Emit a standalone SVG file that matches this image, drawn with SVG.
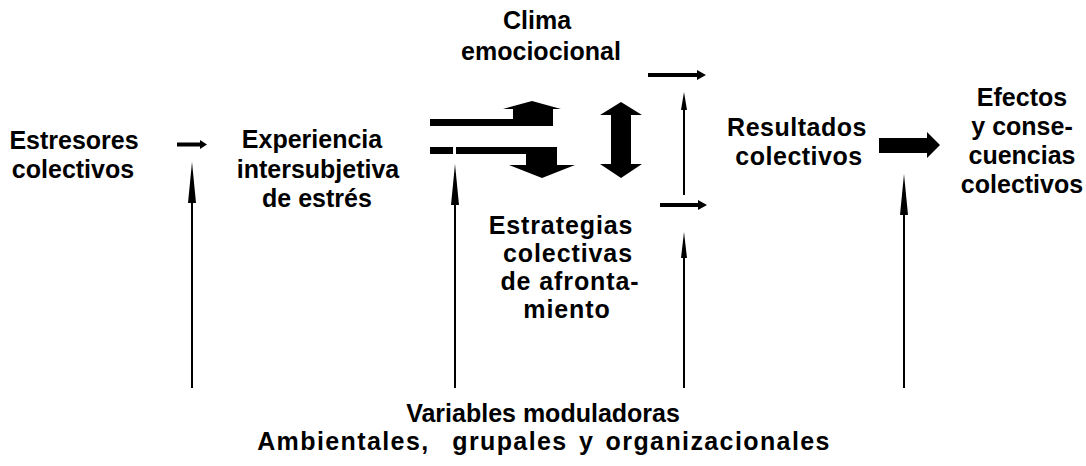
<svg xmlns="http://www.w3.org/2000/svg" width="1086" height="466" viewBox="0 0 1086 466">
<style>
text{font-family:"Liberation Sans",Arial,sans-serif;font-weight:bold;font-size:25px;fill:#000;text-anchor:middle}
.ln{stroke:#000;stroke-width:2;fill:none}
.fl{fill:#000;stroke:none}
.w1{letter-spacing:0.9px}
.w05{letter-spacing:0.5px}
.wide{letter-spacing:1.4px;word-spacing:3px}
</style>
<rect width="1086" height="466" fill="#fff"/>
<g id="estresores">
<text x="74" y="149">Estresores</text>
<text x="73" y="178">colectivos</text>
</g>
<g id="experiencia">
<text x="312" y="148">Experiencia</text>
<text x="318" y="178">intersubjetiva</text>
<text x="317" y="207">de estrés</text>
</g>
<g id="clima">
<text x="537" y="29">Clima</text>
<text x="541" y="60">emociocional</text>
</g>
<g id="estrategias">
<text class="w1" x="561" y="234">Estrategias</text>
<text class="w1" x="568" y="262">colectivas</text>
<text class="w1" x="570" y="290">de afronta-</text>
<text class="w1" x="567" y="318">miento</text>
</g>
<g id="resultados">
<text class="w05" x="797" y="136">Resultados</text>
<text class="w05" x="799" y="165">colectivos</text>
</g>
<g id="efectos">
<text x="1022" y="106">Efectos</text>
<text x="1022" y="135">y conse-</text>
<text x="1022" y="164">cuencias</text>
<text x="1022" y="193">colectivos</text>
</g>
<g id="variables">
<text x="543" y="422">Variables moduladoras</text>
<text class="wide" x="544" y="450" xml:space="preserve">Ambientales,  grupales y organizacionales</text>
</g>
<g id="connectors">
<polygon class="fl" points="177,142.5 200,142.5 200,140 207,144.5 200,149 200,146.5 177,146.5"/>
<polygon class="fl" points="430,119 513,119 513,109 503,109 532,101 561,109 553,109 553,126 430,126"/>
<rect class="fl" x="430" y="147" width="23" height="7"/>
<polygon class="fl" points="456,147 557,147 557,165 575,165 542,178 509,165 526,165 526,154 456,154"/>
<polygon class="fl" points="621,102 642,115 631,115 631,164 642,164 621,178 600,164 611,164 611,115 600,115"/>
<polygon class="fl" points="648,73 697,73 697,70 706,75 697,80 697,77 648,77"/>
<polygon class="fl" points="660,203 698,203 698,200 707,205 698,210 698,207 660,207"/>
<polygon class="fl" points="879,138 927,138 927,132 940,145 927,158 927,153 879,153"/>
<line class="ln" x1="192" y1="388" x2="192" y2="200"/>
<polygon class="fl" points="192,162 196,203 188,203"/>
<line class="ln" x1="455" y1="388" x2="455" y2="200"/>
<polygon class="fl" points="455,164 459,205 451,205"/>
<line class="ln" x1="684" y1="195" x2="684" y2="108"/>
<polygon class="fl" points="684,92 687,110 681,110"/>
<line class="ln" x1="684" y1="388" x2="684" y2="255"/>
<polygon class="fl" points="684,232 687,258 681,258"/>
<line class="ln" x1="904" y1="388" x2="904" y2="212"/>
<polygon class="fl" points="904,174 908,215 900,215"/>
</g>
</svg>
